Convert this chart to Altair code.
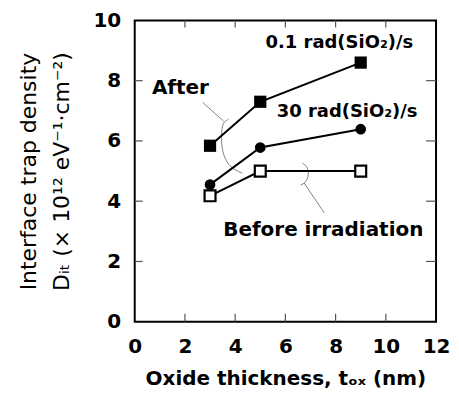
import altair as alt
import pandas as pd

# ---- data ----
thickness = [3, 5, 9]
dit_01 = [5.84, 7.30, 8.60]     # 0.1 rad(SiO2)/s, filled squares
dit_30 = [4.55, 5.78, 6.39]     # 30 rad(SiO2)/s, filled circles
dit_before = [4.18, 5.00, 5.00]  # before irradiation, open squares

x_ticks = [0, 2, 4, 6, 8, 10, 12]
y_ticks = [0, 2, 4, 6, 8, 10]
inner_x_ticks = [2, 4, 6, 8, 10]
inner_y_ticks = [2, 4, 6, 8]

label_text = ["0.1 rad(SiO₂)/s", "30 rad(SiO₂)/s", "After", "Before irradiation"]
label_x = [8.15, 8.46, 1.82, 7.51]
label_y = [9.24, 6.95, 7.75, 3.05]
label_fs = [18, 18, 20, 20]

# annotation leader curves (data units)
after_br_x = [3.73, 3.54, 3.46, 3.50, 3.66, 3.89, 4.29]
after_br_y = [6.72, 6.59, 6.19, 5.70, 5.33, 5.10, 4.93]
after_ld_x = [2.70, 3.54]
after_ld_y = [7.28, 6.66]
before_br_x = [6.67, 6.83, 6.91, 6.87, 6.75, 6.60]
before_br_y = [5.26, 5.17, 4.97, 4.74, 4.60, 4.54]
before_ld_x = [6.75, 7.55]
before_ld_y = [4.60, 3.61]

W, H = 302, 302
FONT = "DejaVu Sans"

xs = alt.Scale(domain=[0, 12], nice=False, zero=False)
ys = alt.Scale(domain=[0, 10], nice=False, zero=False)

xaxis = alt.Axis(values=x_ticks, title="Oxide thickness, tₒₓ (nm)", ticks=False, domain=False,
                 grid=False, labelFont=FONT, labelFontWeight="bold", labelFontSize=20,
                 labelColor="black", labelPadding=15, labelFlush=False, labelOverlap=False,
                 titleFont=FONT, titleFontWeight="bold", titleFontSize=20, titleColor="black",
                 titlePadding=12)
yaxis = alt.Axis(values=y_ticks, title=["Interface trap density", "Dᵢₜ (× 10¹² eV⁻¹·cm⁻²)"],
                 ticks=False, domain=False, grid=False, labelFont=FONT, labelFontWeight="bold",
                 labelFontSize=20, labelColor="black", labelPadding=14, labelFlush=False,
                 labelOverlap=False, titleFont=FONT, titleFontWeight="normal", titleFontSize=22,
                 titleColor="black", titlePadding=20, titleLineHeight=33)

def series_df(ys_):
    return pd.DataFrame({"x": thickness, "y": ys_})

X = alt.X("x:Q", scale=xs, axis=xaxis)
Y = alt.Y("y:Q", scale=ys, axis=yaxis)

tick_col = "#555555"
left_ticks = alt.Chart(pd.DataFrame({"y": inner_y_ticks})).mark_rule(color=tick_col, strokeWidth=1.2).encode(
    y=Y, x=alt.value(0), x2=alt.value(8))
right_ticks = alt.Chart(pd.DataFrame({"y": inner_y_ticks})).mark_rule(color=tick_col, strokeWidth=1.2).encode(
    y=Y, x=alt.value(W - 10), x2=alt.value(W))
bottom_ticks = alt.Chart(pd.DataFrame({"x": inner_x_ticks})).mark_rule(color=tick_col, strokeWidth=1.2).encode(
    x=X, y=alt.value(H - 8), y2=alt.value(H))
top_ticks = alt.Chart(pd.DataFrame({"x": inner_x_ticks})).mark_rule(color=tick_col, strokeWidth=1.2).encode(
    x=X, y=alt.value(0), y2=alt.value(7))

def curve(xv, yv, interp):
    df = pd.DataFrame({"x": xv, "y": yv, "o": list(range(len(xv)))})
    return alt.Chart(df).mark_line(color="#777777", strokeWidth=0.9, interpolate=interp).encode(
        x=X, y=Y, order="o:Q")

leaders = [
    curve(after_br_x, after_br_y, "catmull-rom"),
    curve(after_ld_x, after_ld_y, "linear"),
    curve(before_br_x, before_br_y, "catmull-rom"),
    curve(before_ld_x, before_ld_y, "linear"),
]

def line(ys_):
    return alt.Chart(series_df(ys_)).mark_line(color="black", strokeWidth=2).encode(x=X, y=Y)

lines = [line(dit_01), line(dit_30), line(dit_before)]

sq_filled = alt.Chart(series_df(dit_01)).mark_point(shape="square", filled=True, color="black",
                                                    size=150, opacity=1).encode(x=X, y=Y)
circles = alt.Chart(series_df(dit_30)).mark_point(shape="circle", filled=True, color="black",
                                                  size=115, opacity=1).encode(x=X, y=Y)
sq_open = alt.Chart(series_df(dit_before)).mark_point(shape="square", filled=True, fill="white",
                                                      stroke="black", strokeWidth=2.2, size=120,
                                                      opacity=1).encode(x=X, y=Y)

labels = alt.Chart(pd.DataFrame({"x": label_x, "y": label_y, "t": label_text, "fs": label_fs})).mark_text(
    font=FONT, fontWeight="bold", color="black", align="center", baseline="middle").encode(
    x=X, y=Y, text="t:N", size=alt.Size("fs:Q", scale=None, legend=None))

chart = alt.layer(
    left_ticks, right_ticks, bottom_ticks, top_ticks,
    *leaders, *lines, sq_filled, circles, sq_open, labels
).properties(
    width=W, height=H,
    autosize=alt.AutoSizeParams(type="none"),
    padding={"left": 127, "top": 12, "right": 15, "bottom": 70},
    background="white",
).configure_view(stroke="black", strokeWidth=2)

chart.save("out.html", embed_options={"renderer": "svg", "actions": False})
